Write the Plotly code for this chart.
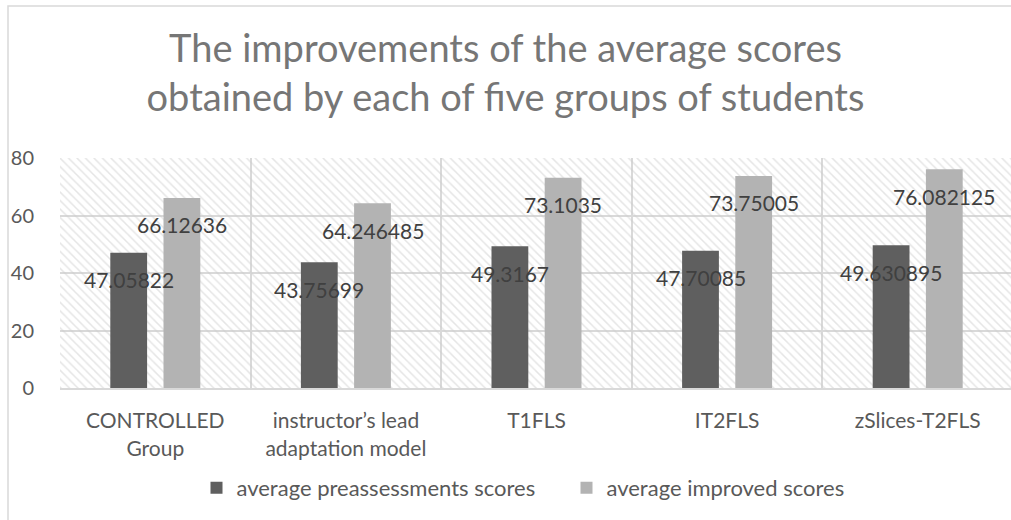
import plotly.graph_objects as go

categories = ["CONTROLLED<br>Group", "instructor’s lead<br>adaptation model", "T1FLS", "IT2FLS", "zSlices-T2FLS"]
pre_scores = [47.05822, 43.75699, 49.3167, 47.70085, 49.630895]
improved_scores = [66.12636, 64.246485, 73.1035, 73.75005, 76.082125]
series_names = ["average preassessments scores", "average improved scores"]
y_ticks = [0, 20, 40, 60, 80]

W, H = 1011, 520
L, R, T, B = 60, 0, 158, 132
cat_px = 190.6
plot_w = W - L - R
plot_h = H - T - B
bar_w = 36.8 / cat_px
half_sep = 26.6 / cat_px

FONT = "Lato"
DARK = "#5f5f5f"
LIGHT = "#b3b3b3"
TXT = "#595959"
GRID = "#d9d9d9"

n = len(categories)
idx = list(range(n))

fig = go.Figure()

# hatched plot-area background
fig.add_trace(go.Bar(
    x=idx, y=[y_ticks[-1]] * n, width=[1] * n,
    marker=dict(color="rgba(0,0,0,0)", line=dict(width=0),
                pattern=dict(shape="\\", size=6, solidity=0.25,
                             fgcolor="#cccccc", bgcolor="rgba(0,0,0,0)")),
    showlegend=False, hoverinfo="skip",
))

for vals, name, color, sign in [(pre_scores, series_names[0], DARK, -1),
                                (improved_scores, series_names[1], LIGHT, 1)]:
    fig.add_trace(go.Bar(
        x=idx, y=vals, name=name, width=bar_w,
        offset=sign * half_sep - bar_w / 2,
        marker=dict(color=color, line=dict(width=0)),
    ))
    for i, v in enumerate(vals):
        fig.add_annotation(
            x=i + sign * half_sep, y=v, xref="x", yref="y",
            text=str(v), showarrow=False, yshift=-27, yanchor="middle",
            font=dict(family=FONT, size=21, color="#404040"),
        )

# outer chart frame
def px_to_paper_x(px):
    return (px - L) / plot_w

def px_to_paper_y(py):
    return (H - B - py) / plot_h

fig.add_shape(type="rect", xref="paper", yref="paper",
              x0=px_to_paper_x(8), x1=px_to_paper_x(W + 20),
              y0=px_to_paper_y(H + 20), y1=px_to_paper_y(6),
              line=dict(color=GRID, width=1.5), fillcolor="rgba(0,0,0,0)", layer="below")

fig.update_layout(
    width=W, height=H,
    margin=dict(l=L, r=R, t=T, b=B, pad=0),
    barmode="overlay",
    paper_bgcolor="white", plot_bgcolor="white",
    font=dict(family=FONT, color=TXT),
    title=dict(
        text="The improvements of the average scores<br>obtained by each of five groups of students",
        x=0.5, xref="container", xanchor="center",
        y=1 - 62 / H, yref="container", yanchor="top",
        font=dict(family=FONT, size=38, color="#767676", weight=400),
    ),
    legend=dict(orientation="h", x=0.5 + 61 / W, xanchor="center", xref="container",
                y=1 - 488 / H, yref="container", yanchor="middle",
                font=dict(family=FONT, size=22, color=TXT), itemwidth=30,
                entrywidth=325, traceorder="normal"),
    xaxis=dict(
        range=[-0.5, -0.5 + plot_w / cat_px],
        tickvals=idx, ticktext=categories, showgrid=False,
        showline=True, linecolor=GRID, linewidth=2,
        ticks="", ticklabelstandoff=13,
        tickfont=dict(family=FONT, size=21, color=TXT),
        minor=dict(tickvals=[i - 0.5 for i in range(n + 1)], showgrid=True,
                   gridcolor=GRID, gridwidth=1.5, ticks=""),
        zeroline=False, fixedrange=True,
    ),
    yaxis=dict(
        range=[0, y_ticks[-1]], tickvals=y_ticks, showgrid=True,
        gridcolor=GRID, gridwidth=1.5, zeroline=False, ticks="",
        ticklabelstandoff=25,
        tickfont=dict(family=FONT, size=20, color=TXT),
    ),
)

fig.write_html("out.html", config={"displayModeBar": False},
               post_script="document.body.style.margin='0px';")
